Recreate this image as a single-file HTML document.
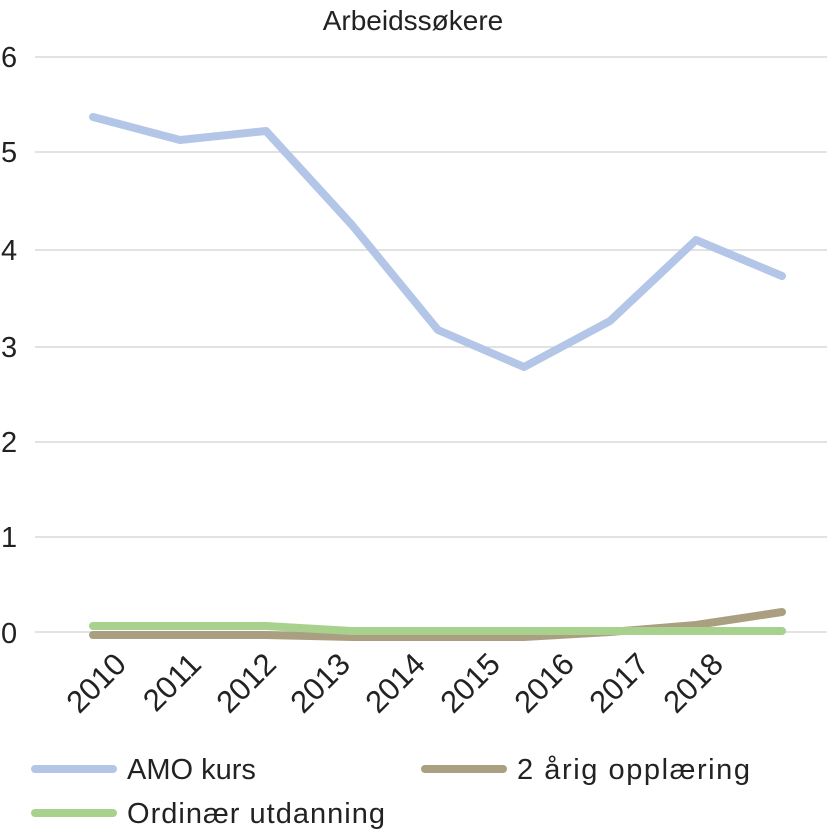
<!DOCTYPE html>
<html><head><style>
body{margin:0;background:#fff}
svg text{font-family:"Liberation Sans",sans-serif;fill:#222}
</style></head><body>
<svg width="827" height="832" viewBox="0 0 827 832">
<text x="413" y="30" font-size="28" text-anchor="middle">Arbeidssøkere</text>
<g stroke="#d9d9d9" stroke-width="1.5">
<line x1="35" y1="57" x2="827" y2="57"/>
<line x1="35" y1="152" x2="827" y2="152"/>
<line x1="35" y1="250" x2="827" y2="250"/>
<line x1="35" y1="347" x2="827" y2="347"/>
<line x1="35" y1="442" x2="827" y2="442"/>
<line x1="35" y1="537" x2="827" y2="537"/>
<line x1="35" y1="632" x2="827" y2="632"/>
</g>
<g font-size="29">
<text x="1" y="67">6</text><text x="1" y="162">5</text><text x="1" y="260">4</text>
<text x="1" y="357">3</text><text x="1" y="452">2</text><text x="1" y="547">1</text><text x="1" y="643">0</text>
</g>
<g font-size="31" text-anchor="end">
<text transform="translate(128,666) rotate(-45)">2010</text>
<text transform="translate(203,666) rotate(-45)">2011</text>
<text transform="translate(278,666) rotate(-45)">2012</text>
<text transform="translate(352,666) rotate(-45)">2013</text>
<text transform="translate(427,666) rotate(-45)">2014</text>
<text transform="translate(502,666) rotate(-45)">2015</text>
<text transform="translate(576,666) rotate(-45)">2016</text>
<text transform="translate(651,666) rotate(-45)">2017</text>
<text transform="translate(725,666) rotate(-45)">2018</text>
</g>
<g fill="none" stroke-width="8" stroke-linecap="round" stroke-linejoin="round">
<polyline stroke="#b4c6e7" points="93,117 180,140 266,131 352,225 438,330 524,367 610,321 696,240 782,276"/>
<polyline stroke="#ab9f82" points="93,635 180,635 266,635 352,637 438,637 524,637 610,632 696,625 782,612"/>
<polyline stroke="#a9d18e" points="93,626 180,626 266,626 352,631 438,631 524,631 610,631 696,631 782,631"/>
</g>
<g stroke-width="8" stroke-linecap="round">
<line x1="35" y1="769" x2="113" y2="769" stroke="#b4c6e7"/>
<line x1="425" y1="769" x2="503" y2="769" stroke="#ab9f82"/>
<line x1="35" y1="813" x2="113" y2="813" stroke="#a9d18e"/>
</g>
<g font-size="29">
<text x="127" y="779">AMO kurs</text>
<text x="517" y="779" textLength="233">2 årig opplæring</text>
<text x="127" y="823" textLength="258">Ordinær utdanning</text>
</g>
</svg>
</body></html>
